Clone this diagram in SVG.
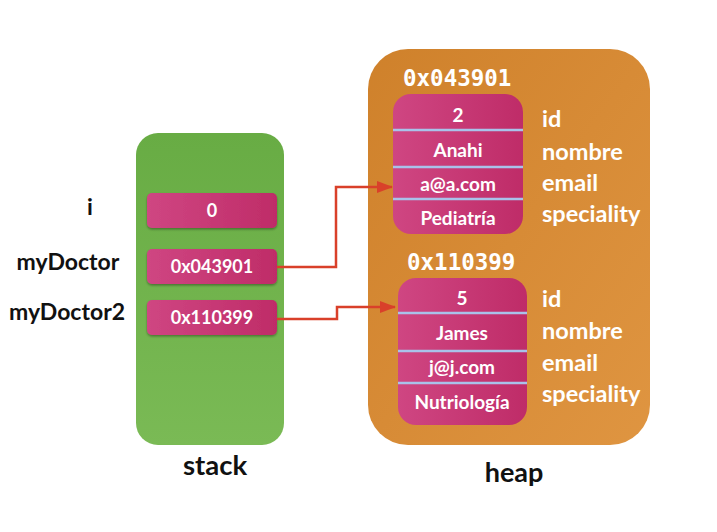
<svg xmlns="http://www.w3.org/2000/svg" width="717" height="532" viewBox="0 0 717 532">
<defs>
<linearGradient id="gGreen" x1="0" y1="0" x2="0" y2="1"><stop offset="0" stop-color="#68ac44"/><stop offset="1" stop-color="#7aba55"/></linearGradient>
<linearGradient id="gOrange" x1="0" y1="0" x2="1" y2="1"><stop offset="0" stop-color="#cf812b"/><stop offset="1" stop-color="#df9541"/></linearGradient>
<linearGradient id="gPink" x1="0" y1="0" x2="1" y2="0"><stop offset="0" stop-color="#cf4682"/><stop offset="1" stop-color="#bf2c68"/></linearGradient>
<filter id="sh" x="-10%" y="-20%" width="120%" height="150%"><feDropShadow dx="0" dy="1.5" stdDeviation="1" flood-color="#000" flood-opacity="0.35"/></filter>
<marker id="arr" markerWidth="16" markerHeight="12" refX="15" refY="6" orient="auto" markerUnits="userSpaceOnUse" viewBox="0 0 16 12"><path d="M0,0 L16,6 L0,12 z" fill="#d9402a"/></marker>
</defs>
<style>
.lbl{font-family:Lato,"Liberation Sans",sans-serif;font-weight:bold;fill:#111;}
.cell{fill:url(#gPink);}
.ct{font-family:Lato,"Liberation Sans",sans-serif;font-weight:bold;font-size:19px;fill:#fff;text-anchor:middle;}
.st{font-size:18px;}
.fld{font-family:Lato,"Liberation Sans",sans-serif;font-weight:bold;font-size:23.5px;fill:#fff;}
.addr{font-family:"DejaVu Sans Mono","Liberation Mono",monospace;font-weight:bold;font-size:22.5px;fill:#fff;}
.div{stroke:#a9c2ea;stroke-width:2.5;}
.conn{fill:none;stroke:#d9402a;stroke-width:2.5;}
</style>
<rect width="717" height="532" fill="#fff"/>
<g id="stack">
<rect x="136" y="133" width="148" height="312" rx="22" fill="url(#gGreen)"/>
<text class="lbl" x="215" y="475" font-size="27.5" text-anchor="middle">stack</text>
</g>
<g id="var-i">
<text class="lbl" x="90" y="215" font-size="23" text-anchor="middle">i</text>
<rect class="cell" x="147" y="193" width="130" height="35" rx="5" filter="url(#sh)"/>
<text class="ct st" x="212" y="217">0</text>
</g>
<g id="var-myDoctor">
<text class="lbl" x="68" y="270" font-size="23" text-anchor="middle">myDoctor</text>
<rect class="cell" x="147" y="249" width="130" height="35" rx="5" filter="url(#sh)"/>
<text class="ct st" x="212" y="273">0x043901</text>
</g>
<g id="var-myDoctor2">
<text class="lbl" x="67" y="320" font-size="23" text-anchor="middle">myDoctor2</text>
<rect class="cell" x="147" y="300" width="130" height="35" rx="5" filter="url(#sh)"/>
<text class="ct st" x="212" y="324">0x110399</text>
</g>
<g id="heap">
<rect x="368" y="49" width="282" height="396" rx="40" fill="url(#gOrange)"/>
<text class="lbl" x="514" y="482" font-size="27" text-anchor="middle">heap</text>
</g>
<g id="obj1">
<text class="addr" x="403" y="86">0x043901</text>
<rect class="cell" x="393" y="94" width="130" height="140" rx="18"/>
<line class="div" x1="393" y1="130" x2="523" y2="130"/>
<line class="div" x1="393" y1="167" x2="523" y2="167"/>
<line class="div" x1="393" y1="199" x2="523" y2="199"/>
<text class="ct" x="458" y="122">2</text>
<text class="ct" x="458" y="157">Anahi</text>
<text class="ct" x="458" y="191">a@a.com</text>
<text class="ct" x="458" y="225">Pediatría</text>
<text class="fld" x="542" y="127">id</text>
<text class="fld" x="542" y="160">nombre</text>
<text class="fld" x="542" y="191">email</text>
<text class="fld" x="542" y="222">speciality</text>
</g>
<g id="obj2">
<text class="addr" x="407" y="270">0x110399</text>
<rect class="cell" x="398" y="278" width="129" height="147" rx="18"/>
<line class="div" x1="398" y1="313" x2="527" y2="313"/>
<line class="div" x1="398" y1="351" x2="527" y2="351"/>
<line class="div" x1="398" y1="383" x2="527" y2="383"/>
<text class="ct" x="462" y="305">5</text>
<text class="ct" x="462" y="340">James</text>
<text class="ct" x="462" y="374">j@j.com</text>
<text class="ct" x="462" y="409">Nutriología</text>
<text class="fld" x="542" y="307">id</text>
<text class="fld" x="542" y="339">nombre</text>
<text class="fld" x="542" y="371">email</text>
<text class="fld" x="542" y="402">speciality</text>
</g>
<g id="connectors">
<polyline class="conn" points="277,267 336,267 336,187 392,187" marker-end="url(#arr)"/>
<polyline class="conn" points="277,319 337,319 337,307 395,307" marker-end="url(#arr)"/>
</g>
</svg>
